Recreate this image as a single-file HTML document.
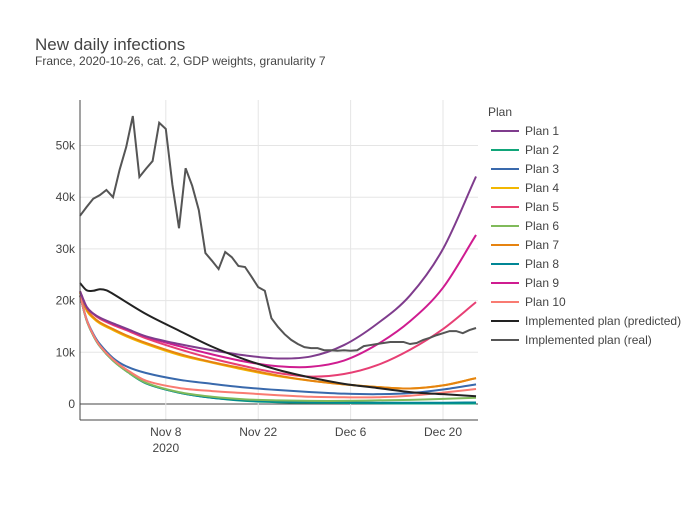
<!DOCTYPE html>
<html><head><meta charset="utf-8"><style>
body{margin:0;background:#fff;font-family:"Liberation Sans",Arial,sans-serif}
svg text{font-family:"Liberation Sans",Arial,sans-serif}
</style></head><body>
<svg id="c" width="700" height="500">
<text x="35" y="50" font-size="17" fill="#444">New daily infections</text>
<text x="35" y="65" font-size="12" fill="#444">France, 2020-10-26, cat. 2, GDP weights, granularity 7</text>
<g id="grid"></g><g id="series"></g><g id="axes"></g><g id="legend"></g>
</svg>
<script>
const modelDays=[0,1,2,3,5,7,10,15,20,25,30,35,40,45,50,55,60];
const plan1=[21.8,18.8,17.5,16.7,15.6,14.6,13.1,11.6,10.4,9.4,8.8,9.2,11.4,15.5,21,30,44];
const plan2=[21,16.2,13.3,11.2,8.4,6.4,4.0,2.2,1.2,0.6,0.35,0.25,0.2,0.15,0.1,0.1,0.1];
const plan3=[21,16.4,13.6,11.6,8.9,7.3,6.0,4.7,3.9,3.2,2.7,2.3,2.0,1.9,2.1,2.8,3.8];
const plan4=[21.5,18.1,16.6,15.6,14.3,13.1,11.6,9.5,8.0,6.6,5.4,4.5,3.8,3.3,3.0,3.6,5.0];
const plan5=[21.8,18.7,17.4,16.5,15.3,14.3,12.7,10.6,8.8,7.3,6.0,5.3,5.8,7.5,10.5,14.5,19.7];
const plan6=[21,16.2,13.3,11.2,8.4,6.4,4.1,2.3,1.4,0.9,0.7,0.6,0.6,0.7,0.8,1.0,1.2];
const plan7=[21.6,18.3,16.8,15.8,14.5,13.3,11.8,9.7,8.1,6.8,5.5,4.5,3.8,3.3,3.0,3.6,5.0];
const plan8=[21,16.2,13.3,11.2,8.4,6.4,4.0,2.2,1.2,0.7,0.45,0.35,0.3,0.25,0.25,0.25,0.3];
const plan9=[21.8,18.8,17.5,16.7,15.5,14.5,13.0,11.2,9.6,8.2,7.3,7.2,8.4,11.5,16,22.5,32.7];
const plan10=[21,16.3,13.4,11.3,8.6,6.7,4.5,3.1,2.5,2.1,1.7,1.4,1.3,1.3,1.6,2.2,2.9];
const predDays=[0,1,2,3,4,5,10,15,20,25,30,35,40,45,50,55,60];
const predicted=[23.4,22,21.9,22.2,22,21.3,17.4,14.2,11.1,8.6,6.6,5.1,3.9,3.1,2.3,1.9,1.5];
const real=[36.4,38.1,39.7,40.4,41.4,40.0,45.3,49.7,55.7,43.9,45.5,47.0,54.4,53.2,42.4,34.0,45.6,42.2,37.5,29.2,27.7,26.1,29.4,28.4,26.7,26.5,24.6,22.6,21.9,16.6,14.9,13.5,12.4,11.6,11.0,10.8,10.8,10.4,10.4,10.3,10.4,10.3,10.4,11.2,11.4,11.6,11.8,12.0,12.0,12.0,11.6,11.8,12.4,12.8,13.3,13.7,14.1,14.1,13.7,14.3,14.7];
const yTicks=[0,10,20,30,40,50];
const yTickLabels=["0","10k","20k","30k","40k","50k"];
const xTickDays=[13,27,41,55];
const xTickLabels=["Nov 8","Nov 22","Dec 6","Dec 20"];
const names=["Plan 1","Plan 2","Plan 3","Plan 4","Plan 5","Plan 6","Plan 7","Plan 8","Plan 9","Plan 10","Implemented plan (predicted)","Implemented plan (real)"];
const colors=["#7f3c8d","#11a579","#3969ac","#f2b701","#e73f74","#80ba5a","#e68310","#008695","#cf1c90","#f97b72","#222222","#555555"];
const X0=80,X1=478,Y0=404;
const x=d=>X0+d*(X1-X0)/60.3;
const y=v=>Y0-v*5.17;
const NS="http://www.w3.org/2000/svg";
function mk(tag,attrs,parent){const e=document.createElementNS(NS,tag);for(const k in attrs)e.setAttribute(k,attrs[k]);parent.appendChild(e);return e;}
const grid=document.getElementById('grid'),ser=document.getElementById('series'),ax=document.getElementById('axes'),leg=document.getElementById('legend');
yTicks.forEach((t,i)=>{
  const l=mk('line',{x1:X0,x2:X1,y1:y(t),y2:y(t),stroke:t===0?'#444':'#e5e5e5','stroke-width':1},grid);
  
  
  const tx=mk('text',{x:75,y:y(t)+4,'text-anchor':'end','font-size':12,fill:'#444'},ax);
  tx.textContent=yTickLabels[i];
  
  
});
xTickDays.forEach((d,i)=>{
  const l=mk('line',{x1:x(d),x2:x(d),y1:100,y2:420,stroke:'#e5e5e5'},grid);
  
  
  const tx=mk('text',{x:x(d),y:436,'text-anchor':'middle','font-size':12,fill:'#444'},ax);
  tx.textContent=xTickLabels[i];
  
  
});
const yr=mk('text',{x:x(13),y:452,'text-anchor':'middle','font-size':12,fill:'#444'},ax);
yr.textContent="2020";


const ya=mk('line',{x1:X0,x2:X0,y1:100,y2:420,stroke:'#444'},ax);


const xa=mk('line',{x1:X0,x2:X1,y1:420,y2:420,stroke:'#444'},ax);


function smooth(days,vals){
  const p=days.map((d,i)=>[x(d),y(vals[i])]);let s=`M${p[0][0]},${p[0][1]}`;
  for(let i=0;i<p.length-1;i++){const a=p[i-1]||p[i],b=p[i],c=p[i+1],e=p[i+2]||c;
    const t=0.5*(c[0]-b[0]);
    const m1=(c[1]-a[1])/((c[0]-a[0])||1),m2=(e[1]-b[1])/((e[0]-b[0])||1);
    const c1=[b[0]+t/1.5,b[1]+m1*t/1.5],c2=[c[0]-t/1.5,c[1]-m2*t/1.5];
    s+=` C${c1[0]},${c1[1]} ${c2[0]},${c2[1]} ${c[0]},${c[1]}`;}
  return s;}
const plans=[plan1,plan2,plan3,plan4,plan5,plan6,plan7,plan8,plan9,plan10];
const order=[3,6,1,7,5,2,9,4,8,0];
order.forEach(i=>{
  const p=mk('path',{d:smooth(modelDays,plans[i]),fill:'none',stroke:colors[i],'stroke-width':2},ser);
  
  
});
const pp=mk('path',{d:smooth(predDays,predicted),fill:'none',stroke:colors[10],'stroke-width':2},ser);


const rp=mk('path',{d:'M'+real.map((v,i)=>x(i)+','+y(v)).join(' L'),fill:'none',stroke:colors[11],'stroke-width':2},ser);


const lt=mk('text',{x:488,y:116,'font-size':12,fill:'#444'},leg);
lt.textContent="Plan";


names.forEach((n,i)=>{
  const yy=131+i*19;
  const g=mk('g',{},leg);
  
  
  mk('line',{x1:491,x2:519,y1:yy,y2:yy,stroke:colors[i],'stroke-width':2},g);
  const t=mk('text',{x:525,y:yy+4,'font-size':12,fill:'#444'},g);
  t.textContent=n;
});
</script>
</body></html>
